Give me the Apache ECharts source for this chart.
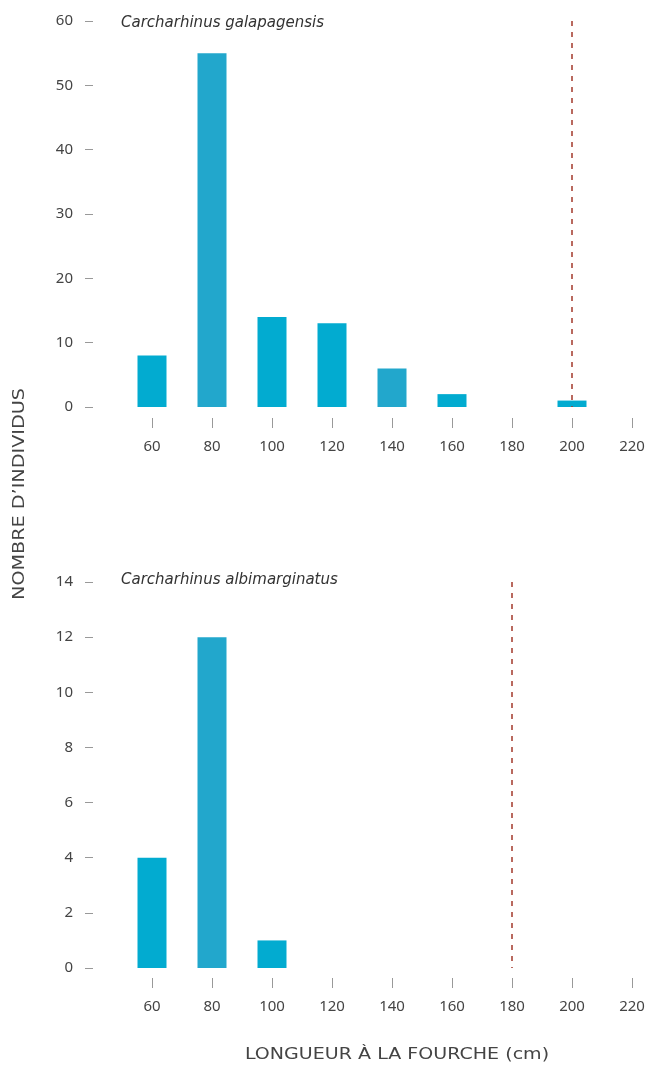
<!DOCTYPE html>
<html>
<head>
<meta charset="utf-8">
<script src="https://cdn.jsdelivr.net/npm/echarts@6/dist/echarts.min.js"></script>
<style>
  html, body { margin: 0; padding: 0; background: #fff; }
  #chart { width: 650px; height: 1068px; }
</style>
</head>
<body>
<div id="chart"></div>
<script>
// Fork-length classes (cm) and number of individuals per class
const lengthClasses = [60, 80, 100, 120, 140, 160, 180, 200, 220];
const galapagensisCounts = [8, 55, 14, 13, 6, 2, 0, 1, 0];
const albimarginatusCounts = [4, 12, 1, 0, 0, 0, 0, 0, 0];
// Maturity size markers (cm)
const galapagensisMaturity = 200;
const albimarginatusMaturity = 180;
const galapagensisTicks = [0, 10, 20, 30, 40, 50, 60];
const albimarginatusTicks = [0, 2, 4, 6, 8, 10, 12, 14];

const speciesNames = ['Carcharhinus galapagensis', 'Carcharhinus albimarginatus'];
const yTitle = 'NOMBRE D\u2019INDIVIDUS';
const xTitle = 'LONGUEUR \u00C0 LA FOURCHE (cm)';

const FONT = 'Noto Sans';
// two close shades of cyan used by the bars, per length class
const classColors = ['#02abd0', '#22a7cc', '#02abd0', '#02abd0', '#22a7cc', '#02abd0', '#02abd0', '#02abd0', '#02abd0'];
const lineColor = '#a3392b';

function toBars(counts) {
  return lengthClasses
    .map((x, i) => ({ value: [x, counts[i]], itemStyle: { color: classColors[i] } }))
    .filter(d => d.value[1] > 0);
}

const xMin = lengthClasses[0];
const xMax = lengthClasses[lengthClasses.length - 1];

// value axis carrying the bars (hidden)
function barXAxis(gi) {
  return { type: 'value', gridIndex: gi, min: xMin, max: xMax, interval: 20, show: false };
}

// visible tick/label axis, drawn in a thin grid just under each plot
function tickXAxis(gi) {
  return {
    type: 'value', gridIndex: gi, min: xMin, max: xMax, interval: 20,
    axisLine: { show: false },
    axisTick: { show: true, length: 10, lineStyle: { color: '#999', width: 1 } },
    axisLabel: { margin: 21, color: '#444', fontFamily: FONT, fontSize: 15 },
    splitLine: { show: false }
  };
}

function yAxisFor(gi, ticks) {
  return {
    type: 'value', gridIndex: gi,
    min: ticks[0], max: ticks[ticks.length - 1], interval: ticks[1] - ticks[0],
    offset: 59,
    axisLine: { show: false },
    axisTick: { show: true, length: 8, lineStyle: { color: '#999', width: 1 } },
    axisLabel: { margin: 20, color: '#444', fontFamily: FONT, fontSize: 15 },
    splitLine: { show: false }
  };
}

function maturityLine(x, top) {
  return {
    silent: true, symbol: 'none', label: { show: false },
    lineStyle: { color: lineColor, type: [5, 6], width: 1.5 },
    data: [[{ coord: [x, top] }, { coord: [x, 0] }]]
  };
}

const titleFont = 'italic 15px "DejaVu Sans"';
const axisTitleFont = '15px "DejaVu Sans"';

const chart = echarts.init(document.getElementById('chart'), null, { renderer: 'canvas' });
chart.setOption({
  animation: false,
  backgroundColor: '#fff',
  grid: [
    { left: 152, width: 480, top: 21, height: 386 },
    { left: 152, width: 480, top: 582, height: 386 },
    { left: 152, width: 480, top: 417, height: 1 },
    { left: 152, width: 480, top: 977, height: 1 }
  ],
  xAxis: [barXAxis(0), barXAxis(1), tickXAxis(2), tickXAxis(3)],
  yAxis: [
    yAxisFor(0, galapagensisTicks),
    yAxisFor(1, albimarginatusTicks),
    { type: 'value', gridIndex: 2, show: false },
    { type: 'value', gridIndex: 3, show: false }
  ],
  series: [
    {
      type: 'bar', xAxisIndex: 0, yAxisIndex: 0, barWidth: 29, clip: false,
      data: toBars(galapagensisCounts),
      markLine: maturityLine(galapagensisMaturity, galapagensisTicks[galapagensisTicks.length - 1])
    },
    {
      type: 'bar', xAxisIndex: 1, yAxisIndex: 1, barWidth: 29, clip: false,
      data: toBars(albimarginatusCounts),
      markLine: maturityLine(albimarginatusMaturity, albimarginatusTicks[albimarginatusTicks.length - 1])
    }
  ],
  graphic: [
    { type: 'text', left: 121, top: 16,
      style: { text: speciesNames[0], fill: '#333', font: titleFont } },
    { type: 'text', left: 121, top: 573,
      style: { text: speciesNames[1], fill: '#333', font: titleFont } },
    { type: 'text', x: 20, y: 494, rotation: Math.PI / 2, scaleX: 1.28,
      style: { text: yTitle, fill: '#444', font: axisTitleFont, align: 'center', verticalAlign: 'middle' } },
    { type: 'text', x: 397, y: 1055, scaleX: 1.27,
      style: { text: xTitle, fill: '#444', font: axisTitleFont, align: 'center', verticalAlign: 'middle' } }
  ]
});
</script>
</body>
</html>
